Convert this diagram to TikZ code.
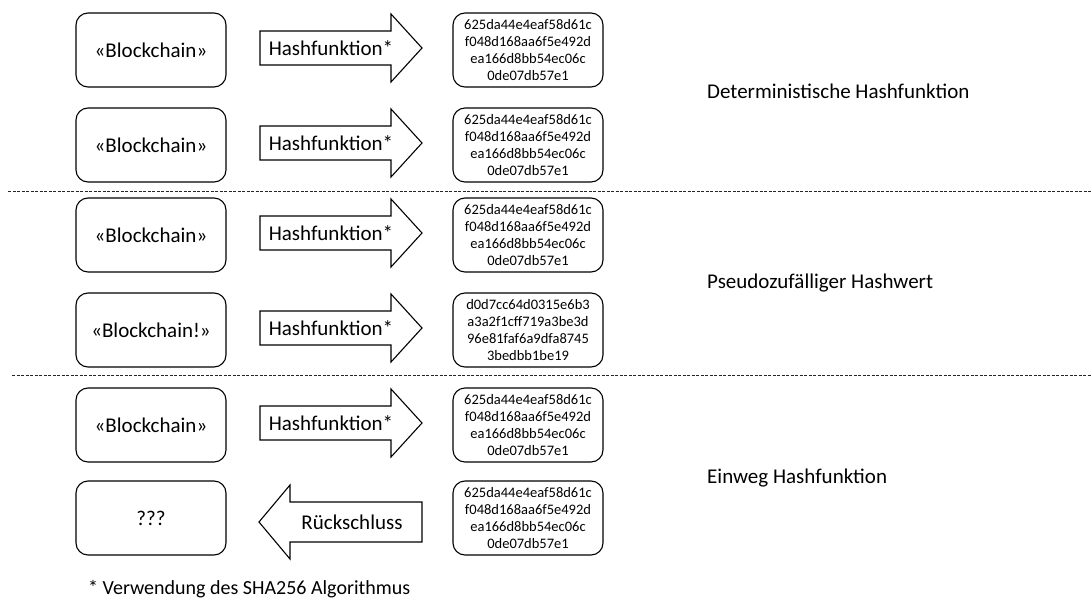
\documentclass[tikz,border=0pt]{standalone}
\usepackage{fontspec}
\setmainfont{Carlito}
\begin{document}
\begin{tikzpicture}[x=1pt,y=-1pt,
  box/.style={draw, line width=1.1pt, rounded corners=12pt, minimum width=150pt, minimum height=74pt, inner sep=0pt, align=center},
  big/.style={font=\fontsize{21}{25}\selectfont},
  hash/.style={font=\fontsize{14.5}{16.7}\selectfont},
  lbl/.style={font=\fontsize{21}{25}\selectfont, anchor=base west, inner sep=0pt},
  blockarrow/.style={draw, line width=1.1pt, line join=miter},
  dashline/.style={line width=0.9pt, dash pattern=on 3pt off 1.5pt, black!85}]
\useasboundingbox (0,0) rectangle (1092,599);

% input boxes
\node[box,big] (in1) at (151,50) {«Blockchain»};
\node[box,big] (in2) at (151,145) {«Blockchain»};
\node[box,big] (in3) at (151,235) {«Blockchain»};
\node[box,big] (in4) at (151,330) {«Blockchain!»};
\node[box,big] (in5) at (151,425) {«Blockchain»};
\node[box,big] (in6) at (151,518) {???};

% hash boxes
\node[box,hash] (out1) at (528,50) {625da44e4eaf58d61c\\f048d168aa6f5e492d\\ea166d8bb54ec06c\\0de07db57e1};
\node[box,hash] (out2) at (528,145) {625da44e4eaf58d61c\\f048d168aa6f5e492d\\ea166d8bb54ec06c\\0de07db57e1};
\node[box,hash] (out3) at (528,235) {625da44e4eaf58d61c\\f048d168aa6f5e492d\\ea166d8bb54ec06c\\0de07db57e1};
\node[box,hash] (out4) at (528,330) {d0d7cc64d0315e6b3\\a3a2f1cff719a3be3d\\96e81faf6a9dfa8745\\3bedbb1be19};
\node[box,hash] (out5) at (528,425) {625da44e4eaf58d61c\\f048d168aa6f5e492d\\ea166d8bb54ec06c\\0de07db57e1};
\node[box,hash] (out6) at (528,518) {625da44e4eaf58d61c\\f048d168aa6f5e492d\\ea166d8bb54ec06c\\0de07db57e1};

% right block arrows
\foreach \c/\i in {48/1,143/2,233/3,328/4,423/5} {
  \draw[blockarrow] (260,\c-17) -- (391,\c-17) -- (391,\c-34) -- (422,\c)
        -- (391,\c+34) -- (391,\c+17) -- (260,\c+17) -- cycle;
  \node[big] (f\i) at (331,\c) {Hashfunktion*};
}

% left block arrow
\draw[blockarrow] (422,502) -- (290,502) -- (290,485) -- (259,522)
      -- (290,559) -- (290,542) -- (422,542) -- cycle;
\node[big] (r6) at (352,522) {Rückschluss};

% dashed separators
\coordinate (d1a) at (8,191);
\coordinate (d1b) at (1092,191);
\coordinate (d2a) at (12,375);
\coordinate (d2b) at (1092,375);
\draw[dashline] (d1a) -- (d1b);
\draw[dashline] (d2a) -- (d2b);

% labels
\node[lbl] (l1) at (707,99) {Deterministische Hashfunktion};
\node[lbl] (l2) at (707,288) {Pseudozufälliger Hashwert};
\node[lbl] (l3) at (707,483) {Einweg Hashfunktion};

% footnote
\node[font=\fontsize{20}{24}\selectfont, anchor=base west, inner sep=0pt] (fn) at (88,594) {* Verwendung des SHA256 Algorithmus};
\end{tikzpicture}
\end{document}
